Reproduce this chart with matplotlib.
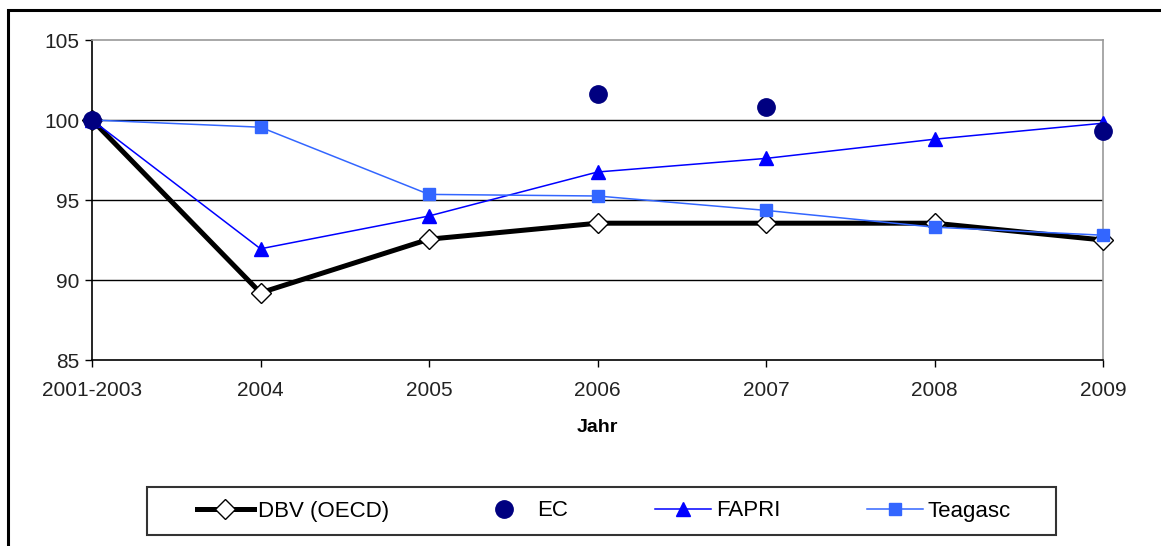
import matplotlib
matplotlib.use("Agg")
import matplotlib.pyplot as plt
from matplotlib.patches import Rectangle

plt.rcParams['font.family'] = ['Liberation Sans', 'DejaVu Sans']

# data
years = ['2001-2003', '2004', '2005', '2006', '2007', '2008', '2009']
dbv = [100, 89.2, 92.55, 93.55, 93.55, 93.55, 92.5]
ec_idx = [0, 3, 4, 6]
ec = [100, 101.6, 100.8, 99.3]
fapri = [100, 91.95, 94.0, 96.75, 97.6, 98.8, 99.8]
teagasc = [100, 99.55, 95.35, 95.25, 94.35, 93.3, 92.8]

W, H = 1161, 546
fig = plt.figure(figsize=(W / 100, H / 100), dpi=100)
ax = fig.add_axes([92 / W, 1 - 360 / H, (1103 - 92) / W, 320 / H])

x = list(range(len(years)))

# horizontal gridlines
for yv in [90, 95, 100]:
    ax.axhline(yv, color='black', lw=1.0, zorder=1)

ax.plot(x, dbv, color='black', lw=3.6, marker='D', ms=10,
        mfc='white', mec='black', mew=1.0, label='DBV (OECD)', zorder=3,
        clip_on=False)
ax.plot(ec_idx, ec, ls='none', marker='o', ms=12.5, color='#000080',
        label='EC', zorder=5, clip_on=False)
ax.plot(x, fapri, color='#0000FF', lw=1.1, marker='^', ms=10,
        label='FAPRI', zorder=4, clip_on=False)
ax.plot(x, teagasc, color='#3366FF', lw=1.1, marker='s', ms=8,
        label='Teagasc', zorder=4, clip_on=False)

ax.set_xlim(0, 6)
ax.set_ylim(85, 105)
ax.set_yticks([85, 90, 95, 100, 105])
ax.set_xticks(x)
ax.set_xticklabels(years)
ax.tick_params(axis='both', direction='out', length=5, width=1,
               labelsize=15, colors='black', labelcolor='#222222')
ax.tick_params(axis='x', pad=10)
ax.tick_params(axis='y', pad=4)

ax.spines['left'].set_color('black')
ax.spines['bottom'].set_color('black')
ax.spines['top'].set_color('#999999')
ax.spines['right'].set_color('#999999')
for s in ax.spines.values():
    s.set_linewidth(1.2)

ax.set_xlabel('Jahr', fontsize=14, fontweight='bold', labelpad=14)

leg = fig.legend(loc='center', bbox_to_anchor=(604 / W, 1 - 511 / H),
                 ncol=4, fontsize=16, frameon=False,
                 handlelength=2.55, handletextpad=0.2,
                 columnspacing=3.9, borderpad=0, borderaxespad=0)

# legend box
fig.patches.append(Rectangle((147 / W, 1 - 535 / H), (1056 - 147) / W, 48 / H,
                             transform=fig.transFigure, fill=False,
                             edgecolor='#333333', lw=1.5))

# outer frame of the figure
fig.patches.append(Rectangle((8 / W, -0.1), 1.2, 1 - 10 / H + 0.1,
                             transform=fig.transFigure, fill=False,
                             edgecolor='black', lw=2.2))

fig.savefig('out.png', dpi=100)
